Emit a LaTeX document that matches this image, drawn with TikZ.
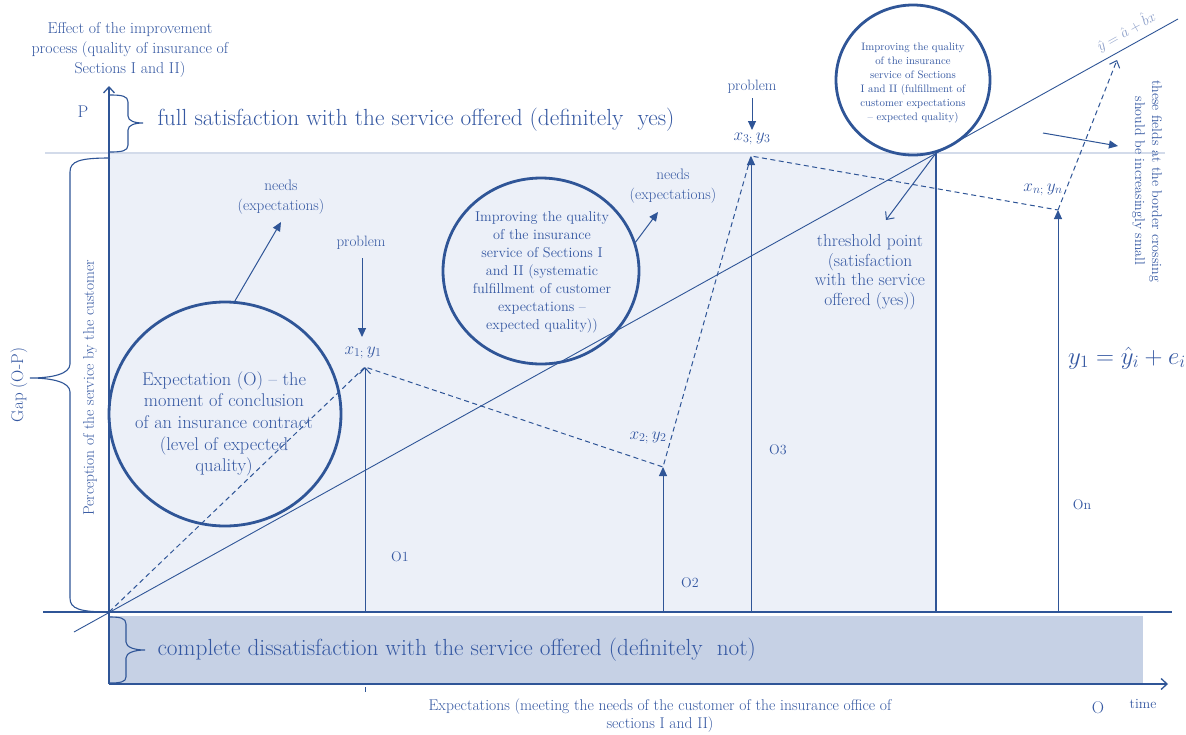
\documentclass[tikz,border=0pt]{standalone}
\usetikzlibrary{arrows.meta,shapes.geometric}
\definecolor{ink}{HTML}{2F5597}
\definecolor{txt}{HTML}{3558A2}
\definecolor{paleink}{HTML}{8A9DC8}
\definecolor{fieldbg}{HTML}{ECF0F8}
\definecolor{bandbg}{HTML}{C6D1E5}
\definecolor{rulebg}{HTML}{D3DBEA}
\newcommand\fsz[2]{\fontsize{#1}{#2}\selectfont}
\begin{document}
\begin{tikzpicture}[x=1pt,y=-1pt,
  line width=1pt, color=ink,
  lbl/.style={text=txt, inner sep=0pt, align=center},
  ring/.style={draw=ink, line width=2.8pt, ellipse, inner sep=0pt},
  filled/.style={-{Triangle[length=9pt,width=8pt]}},
  open/.style={-{Straight Barb[length=6pt,width=11pt]}},
  dashline/.style={dash pattern=on 5pt off 3.5pt},
  axis/.style={draw=ink, line width=1.3pt},
]
\useasboundingbox (0,0) rectangle (1186,734);
\fill[white] (0,0) rectangle (1186,734);

% fields
\fill[fieldbg] (109,153) rectangle (936,612);
\fill[bandbg] (109,616) rectangle (1143,683);
\draw[rulebg, line width=2pt] (45,153) -- (1165,153);

% axes
\coordinate (O) at (109,612);
\coordinate (ytop) at (109,86);
\coordinate (ybot) at (109,684);
\coordinate (xend) at (1168,684);
\coordinate (xleft) at (43,612);
\coordinate (xright) at (1172,612);
\draw[axis] (xleft) -- (xright);
\draw[axis, open] (ybot) -- (ytop);
\draw[axis, open] (ybot) -- (xend);
\coordinate (tickA) at (365,687);
\coordinate (tickB) at (365,692);
\draw[line width=0.6pt] (tickA) -- (tickB);

% threshold boundary and regression line
\coordinate (thr) at (936,153);
\coordinate (thrfoot) at (936,612);
\draw[line width=1.3pt] (thr) -- (thrfoot);
\coordinate (reglo) at (74,632);
\coordinate (reghi) at (1178,19);
\draw[line width=0.9pt] (reglo) -- (reghi);
\node[text=paleink, rotate=29, inner sep=0pt, font=\fsz{14}{16}] (regeq) at (1126,31) {$\hat{y}=\hat{a}+\hat{b}x$};

% measurement points
\coordinate (p1) at (365,367);
\coordinate (p2) at (663,467);
\coordinate (p3) at (751,156);
\coordinate (pn) at (1058,210);
\coordinate (pend) at (1117,60);
\coordinate (f1) at (365,612);
\coordinate (f2) at (663,612);
\coordinate (f3) at (751,612);
\coordinate (fn) at (1058,612);
\draw[open] (f1) -- (p1);
\draw[filled] (f2) -- (p2);
\draw[filled] (f3) -- (p3);
\draw[filled] (fn) -- (pn);
\draw[dashline] (O) -- (p1) -- (p2) -- (p3) -- (pn);
\draw[dashline, open] (pn) -- (pend);

\node[lbl, font=\fsz{17}{19}] (xy1) at (363,353) {$x_{1;}\,y_1$};
\node[lbl, font=\fsz{17}{19}] (xy2) at (648,438) {$x_{2;}\,y_2$};
\node[lbl, font=\fsz{17}{19}] (xy3) at (752,139) {$x_{3;}\,y_3$};
\node[lbl, font=\fsz{17}{19}] (xyn) at (1043,190) {$x_{n;}\,y_n$};

\node[lbl, font=\fsz{14}{16}] (o1) at (400,557) {O1};
\node[lbl, font=\fsz{14}{16}] (o2) at (690,583) {O2};
\node[lbl, font=\fsz{14}{16}] (o3) at (778,450) {O3};
\node[lbl, font=\fsz{14}{16}] (on) at (1082,505) {On};

% problems
\node[lbl, font=\fsz{15}{17}] (prob1) at (361,243) {problem};
\coordinate (pr1a) at (362,258);
\coordinate (pr1b) at (362,337);
\draw[filled] (pr1a) -- (pr1b);
\node[lbl, font=\fsz{15}{17}] (prob3) at (752,87) {problem};
\coordinate (pr3a) at (752,98);
\coordinate (pr3b) at (752,130);
\draw[filled] (pr3a) -- (pr3b);

% circles
\node[ring, minimum width=232pt, minimum height=224pt] (c1) at (225,414) {};
\node[lbl, font=\fsz{18.4}{21.7}] (c1text) at (224,424) {Expectation (O) -- the\\ moment of conclusion\\ of an insurance contract\\ (level of expected\\ quality)};
\node[ring, minimum width=196pt, minimum height=186pt] (c2) at (541,271) {};
\node[lbl, font=\fsz{14.3}{18}] (c2text) at (542,272) {Improving the quality\\ of the insurance\\ service of Sections I\\ and II (systematic\\ fulfillment of customer\\ expectations --\\ expected quality))};
\node[ring, minimum width=154pt, minimum height=150pt] (c3) at (913,80) {};
\node[lbl, font=\fsz{10.8}{14}] (c3text) at (913,83) {Improving the quality\\ of the insurance\\ service of Sections\\ I and II (fulfillment of\\ customer expectations\\ -- expected quality)};

% needs
\node[lbl, font=\fsz{15.2}{20}] (need1) at (281,197) {needs\\(expectations)};
\coordinate (n1tip) at (281,222);
\draw[filled] (c1.85) -- (n1tip);
\node[lbl, font=\fsz{15.2}{20}] (need2) at (673,186) {needs\\(expectations)};
\coordinate (n2tip) at (658,212);
\draw[filled] (c2.17) -- (n2tip);

% threshold
\node[lbl, font=\fsz{17.4}{19.7}] (thrtext) at (870,272) {threshold point\\ (satisfaction\\ with the service\\ offered (yes))};
\coordinate (thrtip) at (886,220);
\draw[open] (thr) -- (thrtip);

% border note
\coordinate (bfa) at (1043,133);
\coordinate (bfb) at (1118,146);
\draw[filled] (bfa) -- (bfb);
\node[lbl, rotate=-90, font=\fsz{14}{17}] (border) at (1147,181) {these fields at the border crossing\\ should be increasingly small};

\node[lbl, font=\fsz{20}{24}] (model) at (1127,358) {\scalebox{1.2}{$y_1=\hat{y}_i+e_i$}};

% axis texts
\node[lbl, font=\fsz{15.8}{20}] (ylab) at (130,50) {Effect of the improvement\\ process (quality of insurance of\\ Sections I and II)};
\node[lbl, font=\fsz{17}{20}] (plab) at (83,112) {P};
\node[lbl, anchor=west, font=\fsz{23.3}{27}] (full) at (157,120) {full satisfaction with the service offered (definitely\ \ yes)};
\node[lbl, anchor=west, font=\fsz{23.3}{27}] (none) at (157,650) {complete dissatisfaction with the service offered (definitely\ \ not)};
\node[lbl, rotate=90, font=\fsz{15.4}{17}] (perc) at (90,388) {Perception of the service by the customer};
\node[lbl, rotate=90, font=\fsz{17}{20}] (gap) at (19,385) {Gap (O-P)};
\node[lbl, font=\fsz{15.6}{18}] (xlab) at (660,716) {Expectations (meeting the needs of the customer of the insurance office of\\ sections I and II)};
\node[lbl, font=\fsz{17}{20}] (olab) at (1098,708) {O};
\node[lbl, font=\fsz{14}{16}] (time) at (1143,704) {time};

% braces
\draw[line width=1.1pt] (110,95) .. controls (122,95) and (128,96) .. (128,102) -- (128,116)
  .. controls (128,121) and (135,123) .. (143,123) .. controls (135,123) and (128,125) .. (128,130)
  -- (128,145) .. controls (128,151) and (122,152) .. (110,152);
\draw[line width=1.1pt] (110,158) .. controls (80,158) and (70,161) .. (70,172) -- (70,364)
  .. controls (70,374) and (52,378) .. (30,378) .. controls (52,378) and (70,382) .. (70,392)
  -- (70,598) .. controls (70,609) and (80,612) .. (110,612);
\draw[line width=1.1pt] (110,617) .. controls (120,617) and (126,618) .. (126,624) -- (126,642)
  .. controls (126,647) and (134,650) .. (145,650) .. controls (134,650) and (126,653) .. (126,658)
  -- (126,677) .. controls (126,682) and (120,683) .. (110,683);
\end{tikzpicture}
\end{document}
